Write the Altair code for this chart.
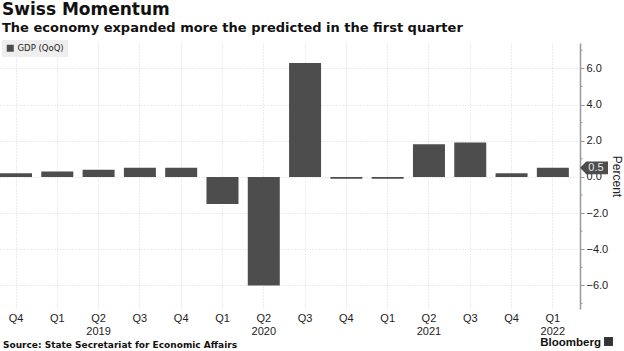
import altair as alt
import pandas as pd

# ---------------- data ----------------
quarters = ["Q4", "Q1", "Q2", "Q3", "Q4", "Q1", "Q2", "Q3", "Q4", "Q1", "Q2", "Q3", "Q4", "Q1"]
year_labels = ["", "", "2019", "", "", "", "2020", "", "", "", "2021", "", "", "2022"]
gdp_qoq = [0.2, 0.3, 0.4, 0.5, 0.5, -1.5, -6.0, 6.3, -0.1, -0.1, 1.8, 1.9, 0.2, 0.5]
series_name = "GDP (QoQ)"
y_ticks = [-6, -4, -2, 0, 2, 4, 6]
minor_ticks = [-7, -5, -3, -1, 1, 3, 5, 7]
latest_value = [0.5]
latest_label = ["0.5"]
title_text = "Swiss Momentum"
subtitle_text = "The economy expanded more the predicted in the first quarter"
source_text = "Source: State Secretariat for Economic Affairs"
brand_text = "Bloomberg"

keys = [f"{i}|{q}|{y}" for i, (q, y) in enumerate(zip(quarters, year_labels))]
df = pd.DataFrame({"key": keys, "value": gdp_qoq, "series": [series_name] * len(keys)})
df_minor = pd.DataFrame({"value": minor_ticks})
df_last = pd.DataFrame({"value": latest_value, "label": latest_label})

W, H = 580, 266
FONT = "DejaVu Sans"
BAR = "#4d4d4d"
GRID = "#d8d8d8"

y_scale = alt.Scale(domain=[-7.3, 7.4], nice=False, zero=False)

x_enc = alt.X(
    "key:N",
    sort=keys,
    scale=alt.Scale(paddingInner=0.225, paddingOuter=0.135, align=0),
    axis=alt.Axis(
        title=None,
        labelExpr="[split(datum.value, '|')[1], split(datum.value, '|')[2]]",
        labelAngle=0,
        domain=False,
        ticks=False,
        tickSize=0,
        grid=True,
        gridColor=GRID,
        gridDash=[1, 2],
        bandPosition=0.5,
        labelPadding=3,
        labelFont="Liberation Sans",
        labelFontSize=11,
        labelColor="#222222",
        labelLineHeight=13,
    ),
)

y_axis = alt.Axis(
    orient="right",
    values=y_ticks,
    format=".1f",
    title="Percent",
    titleFont="Liberation Sans",
    titleFontSize=12,
    titleFontWeight="normal",
    titleColor="#222222",
    titlePadding=2,
    labelFont="Liberation Sans",
    labelFontSize=11,
    labelColor="#222222",
    labelPadding=2,
    tickSize=4,
    tickColor="#999999",
    domainColor="#999999",
    domainWidth=1.5,
    grid=True,
    gridColor=GRID,
    gridDash=[1, 2],
)

bars = alt.Chart(df).mark_bar(color=BAR).encode(
    x=x_enc,
    y=alt.Y("value:Q", scale=y_scale, axis=y_axis),
    color=alt.Color(
        "series:N",
        scale=alt.Scale(domain=[series_name], range=[BAR]),
        legend=alt.Legend(
            title=None,
            orient="none",
            legendX=2,
            legendY=-3,
            fillColor="#eeeeee",
            padding=4,
            symbolType="square",
            symbolSize=49,
            symbolStrokeWidth=0,
            labelFont=FONT,
            labelFontSize=8.5,
            labelColor="#222222",
            labelOffset=3,
        ),
    ),
)

minor = alt.Chart(df_minor).mark_rule(color="#999999", strokeWidth=1).encode(
    y=alt.Y("value:Q", scale=y_scale),
    x=alt.value(W),
    x2=alt.value(W + 2.5),
)

callout_path = "M-1,0 L-0.55,-0.46 L1,-0.46 L1,0.46 L-0.55,0.46 Z"
callout = alt.Chart(df_last).mark_point(
    shape=callout_path, size=784, filled=True, color=BAR, opacity=1, clip=False
).encode(y=alt.Y("value:Q", scale=y_scale), x=alt.value(W + 14))

callout_text = alt.Chart(df_last).mark_text(
    font="Liberation Sans", fontSize=11, color="#e8e8e8", align="center", baseline="middle"
).encode(y=alt.Y("value:Q", scale=y_scale), x=alt.value(W + 16), text="label:N")

source = alt.Chart(pd.DataFrame({"t": [source_text]})).mark_text(
    font=FONT, fontSize=9, fontWeight="bold", align="left", baseline="alphabetic", color="#111111"
).encode(x=alt.value(3), y=alt.value(305), text="t:N")

brand = alt.Chart(pd.DataFrame({"t": [brand_text]})).mark_text(
    font="Liberation Sans", fontSize=11.5, fontWeight="bold", align="right", baseline="alphabetic", color="#111111"
).encode(x=alt.value(601), y=alt.value(303), text="t:N")

logo = alt.Chart(pd.DataFrame({"t": [brand_text]})).mark_point(
    shape="square", size=80, filled=True, color="#333333", opacity=1
).encode(x=alt.value(608.5), y=alt.value(298.5))

chart = (
    alt.layer(bars, minor, callout, callout_text, source, brand, logo)
    .properties(
        width=W,
        height=H,
        autosize=alt.AutoSizeParams(type="none"),
        padding={"left": 0, "top": 43, "right": 44, "bottom": 42},
        background="white",
        title=alt.TitleParams(
            text=title_text,
            subtitle=subtitle_text,
            anchor="start",
            frame="group",
            dx=2,
            offset=4,
            font=FONT,
            fontSize=17,
            fontWeight="bold",
            color="#111111",
            subtitleFont=FONT,
            subtitleFontSize=13,
            subtitleFontWeight="bold",
            subtitleColor="#111111",
            subtitlePadding=3,
        ),
    )
    .configure_view(stroke=None)
)

chart.save("out.html", embed_options={"renderer": "svg", "actions": False})
